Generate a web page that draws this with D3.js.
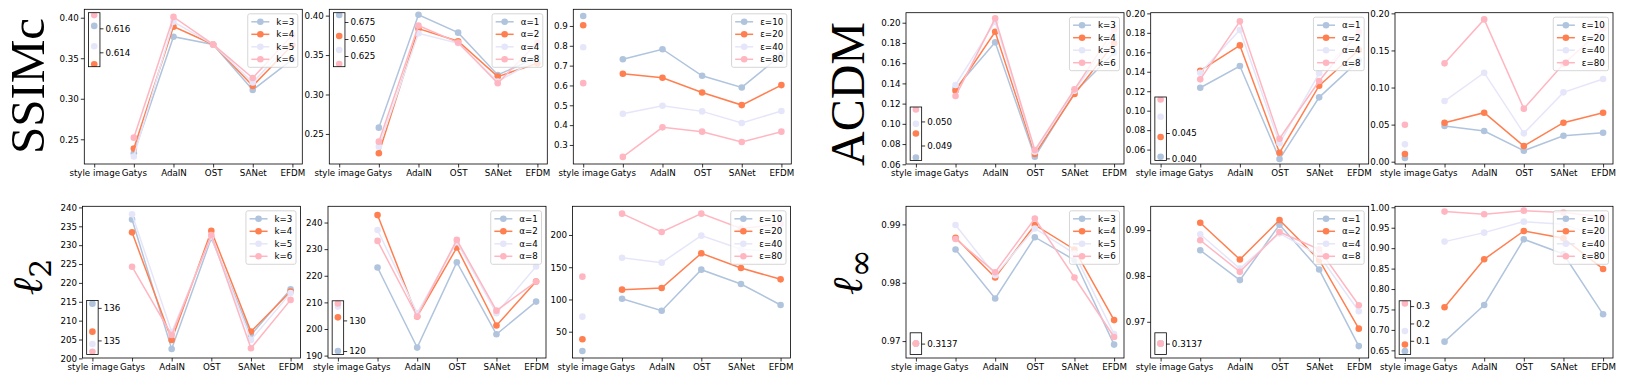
<!DOCTYPE html>
<html>
<head>
<meta charset="utf-8">
<script src="https://cdn.jsdelivr.net/npm/d3@7"></script>
<style>
  body { margin: 0; background: #fff; }
  text { font-family: "DejaVu Sans", sans-serif; }
</style>
</head>
<body>
<svg id="fig" width="1643" height="383"></svg>
<script>
"use strict";

// categories on the x axis
var methods = ["style image", "Gatys", "AdaIN", "OST", "SANet", "EFDM"];

// legend labels
var kLabels = ["k=3", "k=4", "k=5", "k=6"];
var alphaLabels = ["α=1", "α=2", "α=4", "α=8"];
var epsLabels = ["ε=10", "ε=20", "ε=40", "ε=80"];

// SSIMc
var ssimcK = [
  [0.6162, 0.2328, 0.3766, 0.3670, 0.3108, 0.3486],
  [0.6130, 0.2385, 0.3890, 0.3670, 0.3158, 0.3663],
  [0.6145, 0.2287, 0.3950, 0.3670, 0.3200, 0.3725],
  [0.6171, 0.2520, 0.4010, 0.3670, 0.3256, 0.3786]
];
var ssimcAlpha = [
  [0.6853, 0.2580, 0.4010, 0.3784, 0.3248, 0.3472],
  [0.6544, 0.2255, 0.3835, 0.3675, 0.3227, 0.3396],
  [0.6338, 0.2339, 0.3776, 0.3650, 0.3163, 0.3450],
  [0.6132, 0.2402, 0.3873, 0.3658, 0.3142, 0.3658]
];
var ssimcEps = [
  [0.9500, 0.7324, 0.7827, 0.6486, 0.5900, 0.7542],
  [0.9034, 0.6587, 0.6386, 0.5648, 0.5011, 0.6017],
  [0.7927, 0.4576, 0.4978, 0.4693, 0.4106, 0.4710],
  [0.6117, 0.2397, 0.3889, 0.3671, 0.3151, 0.3671]
];

// ACDM
var acdmK = [
  [0.0485, 0.1350, 0.1806, 0.0675, 0.1310, 0.1703],
  [0.0495, 0.1328, 0.1911, 0.0702, 0.1295, 0.1796],
  [0.0499, 0.1384, 0.2010, 0.0725, 0.1328, 0.1868],
  [0.0505, 0.1275, 0.2043, 0.0741, 0.1341, 0.1934]
];
var acdmAlpha = [
  [0.0403, 0.1236, 0.1459, 0.0503, 0.1137, 0.1514],
  [0.0442, 0.1411, 0.1671, 0.0568, 0.1257, 0.1623],
  [0.0482, 0.1390, 0.1829, 0.0664, 0.1384, 0.1780],
  [0.0516, 0.1322, 0.1918, 0.0712, 0.1305, 0.1812]
];
var acdmEps = [
  [0.0050, 0.0481, 0.0413, 0.0148, 0.0350, 0.0391],
  [0.0103, 0.0526, 0.0661, 0.0211, 0.0526, 0.0661],
  [0.0234, 0.0818, 0.1200, 0.0382, 0.0935, 0.1115],
  [0.0499, 0.1326, 0.1919, 0.0715, 0.1317, 0.1798]
];

// l2
var l2K = [
  [136.13, 236.8, 202.5, 231.9, 206.2, 218.3],
  [135.27, 233.4, 204.9, 233.8, 207.1, 217.7],
  [134.89, 238.2, 207.0, 232.3, 204.9, 217.3],
  [134.65, 224.3, 206.2, 232.7, 202.7, 215.5]
];
var l2Alpha = [
  [120.0, 223.1, 193.0, 225.1, 198.0, 210.3],
  [131.0, 242.8, 204.7, 230.6, 201.3, 217.8],
  [134.5, 237.2, 206.0, 232.6, 205.9, 223.5],
  [135.5, 233.1, 204.7, 233.5, 206.9, 217.8]
];
var l2Eps = [
  [20.1, 101.2, 82.6, 146.2, 124.0, 91.4],
  [38.2, 115.2, 117.8, 171.6, 148.8, 131.2],
  [73.3, 164.8, 157.1, 199.0, 177.8, 174.0],
  [135.4, 233.1, 204.7, 233.1, 210.0, 217.1]
];

// l-infinity
var linfK = [
  [0.3137, 0.9857, 0.9773, 0.9878, 0.9839, 0.9694],
  [0.3137, 0.9877, 0.9809, 0.9899, 0.9857, 0.9736],
  [0.3137, 0.9899, 0.9813, 0.9893, 0.9850, 0.9712],
  [0.3137, 0.9875, 0.9818, 0.9910, 0.9809, 0.9707]
];
var linfAlpha = [
  [0.3137, 0.9856, 0.9791, 0.9912, 0.9814, 0.9647],
  [0.3137, 0.9916, 0.9836, 0.9922, 0.9835, 0.9685],
  [0.3137, 0.9891, 0.9816, 0.9893, 0.9845, 0.9723],
  [0.3137, 0.9878, 0.9809, 0.9896, 0.9858, 0.9736]
];
var linfEps = [
  [0.0404, 0.6713, 0.7610, 0.9217, 0.8858, 0.7382],
  [0.0788, 0.7553, 0.8728, 0.9421, 0.9241, 0.8491],
  [0.1558, 0.9160, 0.9380, 0.9649, 0.9584, 0.9258],
  [0.3154, 0.9894, 0.9829, 0.9918, 0.9870, 0.9770]
];

// tick values (main axes)
var ssimcTicks = [0.25, 0.30, 0.35, 0.40];
var ssimcEpsTicks = [0.3, 0.4, 0.5, 0.6, 0.7, 0.8, 0.9];
var acdmTicks = [0.06, 0.08, 0.10, 0.12, 0.14, 0.16, 0.18, 0.20];
var acdmEpsTicks = [0.00, 0.05, 0.10, 0.15, 0.20];
var l2KTicks = [200, 205, 210, 215, 220, 225, 230, 235, 240];
var l2AlphaTicks = [190, 200, 210, 220, 230, 240];
var l2EpsTicks = [50, 100, 150, 200];
var linfTicks = [0.97, 0.98, 0.99];
var linfEpsTicks = [0.65, 0.70, 0.75, 0.80, 0.85, 0.90, 0.95, 1.00];

// tick values (style image insets)
var ssimcKInsetTicks = [0.614, 0.616];
var ssimcAlphaInsetTicks = [0.625, 0.650, 0.675];
var acdmKInsetTicks = [0.049, 0.050];
var acdmAlphaInsetTicks = [0.040, 0.045];
var l2KInsetTicks = [135, 136];
var l2AlphaInsetTicks = [120, 130];
var linfInsetTicks = [0.3137];
var linfEpsInsetTicks = [0.1, 0.2, 0.3];

var colors = ["#b0c4de", "#ff7f50", "#e6e6fa", "#ffb6c1"];

var svg = d3.select("#fig");
var W = 218;
var FS = 8.7;
var clipN = 0;

function styleAxis(a) {
  a.select(".domain").remove();
  a.attr("font-family", null).attr("font-size", null);
  a.selectAll("text").attr("font-size", FS).attr("fill", "#000");
  a.selectAll("line").attr("stroke", "#000").attr("stroke-width", 0.8);
}

function drawPanel(p) {
  var h = p.y1 - p.y0;
  var g = svg.append("g").attr("transform", "translate(" + p.x + "," + p.y0 + ")");

  var x = d3.scalePoint().domain(methods).range([0, W]).padding(0.25);
  var y = d3.scaleLinear().domain(p.domain).range([h, 0]);

  var cid = "clip" + (clipN++);
  g.append("clipPath").attr("id", cid)
    .append("rect").attr("width", W).attr("height", h);

  var line = d3.line().x(function(d) { return x(d[0]); }).y(function(d) { return y(d[1]); });
  var plot = g.append("g").attr("clip-path", "url(#" + cid + ")");

  p.data.forEach(function(s, i) {
    var pts = methods.map(function(m, j) { return [m, s[j]]; });
    var linePts = pts.slice(1);
    var dotPts = p.inset ? linePts : pts;
    plot.append("path").datum(linePts)
      .attr("d", line).attr("fill", "none")
      .attr("stroke", colors[i]).attr("stroke-width", 1.5);
    plot.selectAll(null).data(dotPts).enter().append("circle")
      .attr("cx", function(d) { return x(d[0]); })
      .attr("cy", function(d) { return y(d[1]); })
      .attr("r", 3.3).attr("fill", colors[i]);
  });

  // axes
  var ax = g.append("g")
    .call(d3.axisLeft(y).tickValues(p.ticks).tickFormat(d3.format(p.fmt))
      .tickSize(3.5).tickPadding(2).tickSizeOuter(0));
  var bx = g.append("g").attr("transform", "translate(0," + h + ")")
    .call(d3.axisBottom(x).tickSize(3.5).tickPadding(2).tickSizeOuter(0));
  styleAxis(ax);
  styleAxis(bx);
  g.append("rect").attr("width", W).attr("height", h)
    .attr("fill", "none").attr("stroke", "#000").attr("stroke-width", 0.8);

  // legend
  var lg = g.append("g");
  var items = lg.selectAll(null).data(p.labels).enter().append("g");
  var txt = items.append("text").attr("font-size", FS).attr("dy", "0.35em")
    .text(function(d) { return d; });
  var tw = d3.max(txt.nodes(), function(n) { return n.getComputedTextLength(); });
  var lw = 3.6 + 18 + 7 + tw + 3.6, rowH = 12.5, lh = rowH * 4 + 3.5;
  var lx = W - 4.5 - lw, ly = 4.5;
  lg.insert("rect", ":first-child").attr("x", lx).attr("y", ly)
    .attr("width", lw).attr("height", lh).attr("rx", 2)
    .attr("fill", "#fff").attr("fill-opacity", 0.8)
    .attr("stroke", "#ccc").attr("stroke-width", 0.8);
  items.attr("transform", function(d, i) {
    return "translate(" + (lx + 3.6) + "," + (ly + 1.75 + rowH * (i + 0.5)) + ")";
  });
  items.append("line").attr("x1", 0).attr("x2", 18)
    .attr("stroke", function(d, i) { return colors[i]; }).attr("stroke-width", 1.5);
  items.append("circle").attr("cx", 9).attr("r", 3.3)
    .attr("fill", function(d, i) { return colors[i]; });
  txt.attr("x", 25);

  // inset with the style image values
  if (p.inset) {
    var ins = p.inset;
    var iw = 11.5, ih = ins.h;
    var iy0 = ins.at === "top" ? 3.4 : h - 3.6 - ih;
    var ig = g.append("g").attr("transform", "translate(" + (x(methods[0]) - iw / 2) + "," + iy0 + ")");
    var yi = d3.scaleLinear().domain(ins.domain).range([ih, 0]);
    var icid = "clip" + (clipN++);
    ig.append("clipPath").attr("id", icid)
      .append("rect").attr("width", iw).attr("height", ih);
    ig.append("rect").attr("width", iw).attr("height", ih).attr("fill", "#fff");
    var ip = ig.append("g").attr("clip-path", "url(#" + icid + ")");
    p.data.forEach(function(s, i) {
      ip.append("circle").attr("cx", iw / 2).attr("cy", yi(s[0]))
        .attr("r", 3.3).attr("fill", colors[i]);
    });
    var ia = ig.append("g").attr("transform", "translate(" + iw + ",0)")
      .call(d3.axisRight(yi).tickValues(ins.ticks).tickFormat(d3.format(ins.fmt))
        .tickSize(3.5).tickPadding(2).tickSizeOuter(0));
    styleAxis(ia);
    ig.append("rect").attr("width", iw).attr("height", ih)
      .attr("fill", "none").attr("stroke", "#000").attr("stroke-width", 0.8);
  }
}

var panels = [
  { x: 84.3, y0: 9.3, y1: 164, data: ssimcK, labels: kLabels, ticks: ssimcTicks, fmt: ".2f",
    domain: [0.2195, 0.4104],
    inset: { at: "top", h: 54, domain: [0.6128, 0.6173], ticks: ssimcKInsetTicks, fmt: ".3f" } },
  { x: 329.3, y0: 9.3, y1: 164, data: ssimcAlpha, labels: alphaLabels, ticks: ssimcTicks, fmt: ".2f",
    domain: [0.2119, 0.4080],
    inset: { at: "top", h: 54, domain: [0.6093, 0.6887], ticks: ssimcAlphaInsetTicks, fmt: ".3f" } },
  { x: 573.3, y0: 9.3, y1: 164, data: ssimcEps, labels: epsLabels, ticks: ssimcEpsTicks, fmt: ".1f",
    domain: [0.2040, 0.9840] },
  { x: 906, y0: 12.7, y1: 164, data: acdmK, labels: kLabels, ticks: acdmTicks, fmt: ".2f",
    domain: [0.0603, 0.2099],
    inset: { at: "bottom", h: 53.4, domain: [0.04838, 0.0506], ticks: acdmKInsetTicks, fmt: ".3f" } },
  { x: 1150.7, y0: 12.7, y1: 164, data: acdmAlpha, labels: alphaLabels, ticks: acdmTicks, fmt: ".2f",
    domain: [0.0452, 0.2007],
    inset: { at: "bottom", h: 63.4, domain: [0.0396, 0.0521], ticks: acdmAlphaInsetTicks, fmt: ".3f" } },
  { x: 1395, y0: 12.7, y1: 164, data: acdmEps, labels: epsLabels, ticks: acdmEpsTicks, fmt: ".2f",
    domain: [-0.0031, 0.2009] },

  { x: 82.5, y0: 206.3, y1: 358, data: l2K, labels: kLabels, ticks: l2KTicks, fmt: "d",
    domain: [200.1, 240.3],
    inset: { at: "bottom", h: 54, domain: [134.57, 136.23], ticks: l2KInsetTicks, fmt: "d" } },
  { x: 328, y0: 206.3, y1: 358, data: l2Alpha, labels: alphaLabels, ticks: l2AlphaTicks, fmt: "d",
    domain: [189.1, 246.1],
    inset: { at: "bottom", h: 53.6, domain: [118.9, 136.4], ticks: l2AlphaInsetTicks, fmt: "d" } },
  { x: 572.5, y0: 206.3, y1: 358, data: l2Eps, labels: epsLabels, ticks: l2EpsTicks, fmt: "d",
    domain: [9.2, 244.5] },
  { x: 906, y0: 206.3, y1: 358, data: linfK, labels: kLabels, ticks: linfTicks, fmt: ".2f",
    domain: [0.9671, 0.9931],
    inset: { at: "bottom", h: 21.6, domain: [0.3136, 0.3138], ticks: linfInsetTicks, fmt: ".4f" } },
  { x: 1150.7, y0: 206.3, y1: 358, data: linfAlpha, labels: alphaLabels, ticks: linfTicks, fmt: ".2f",
    domain: [0.9621, 0.9952],
    inset: { at: "bottom", h: 21.6, domain: [0.3136, 0.3138], ticks: linfInsetTicks, fmt: ".4f" } },
  { x: 1395, y0: 206.3, y1: 358, data: linfEps, labels: epsLabels, ticks: linfEpsTicks, fmt: ".2f",
    domain: [0.6313, 1.0024],
    inset: { at: "bottom", h: 53.6, domain: [0.0216, 0.3305], ticks: linfEpsInsetTicks, fmt: ".1f" } }
];

panels.forEach(drawPanel);

// row titles, rotated
function rowTitle(cx, cy, main, sub, size, subSize, mathItalic) {
  var t = svg.append("text")
    .attr("transform", "translate(" + cx + "," + cy + ") rotate(-90)")
    .attr("text-anchor", "middle")
    .style("font-family", "'Liberation Serif', 'DejaVu Serif', serif")
    .attr("font-size", size).attr("fill", "#000");
  var m = t.append("tspan").text(main);
  if (mathItalic) m.style("font-family", "'DejaVu Serif', serif").style("font-style", "italic");
  if (sub) {
    t.append("tspan").attr("font-size", subSize).attr("dy", subSize * 0.3)
      .style("font-family", "'DejaVu Serif', serif").text(sub);
  }
}
rowTitle(44, 86, "SSIMc", null, 49);
rowTitle(864, 94, "ACDM", null, 48);
rowTitle(42, 277, "ℓ", "2", 42, 30, true);
rowTitle(862, 272, "ℓ", "∞", 42, 34, true);
</script>
</body>
</html>
